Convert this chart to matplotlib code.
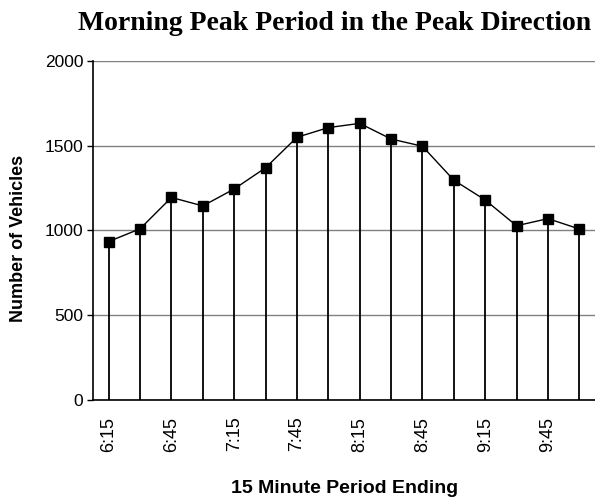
import numpy as np
import matplotlib.pyplot as plt

# 15 minute periods (period ending)
periods = ['6:15', '6:30', '6:45', '7:00', '7:15', '7:30', '7:45', '8:00',
           '8:15', '8:30', '8:45', '9:00', '9:15', '9:30', '9:45', '10:00']
vehicles = [935, 1010, 1195, 1145, 1245, 1370, 1550, 1607,
            1632, 1540, 1497, 1297, 1180, 1028, 1070, 1009]

x = np.arange(len(periods))

fig = plt.figure(figsize=(5.95, 4.98), dpi=100)
ax = fig.add_axes([93 / 595, 1 - 400 / 498, 1 - 93 / 595, 339 / 498])

# drop lines from each point down to the axis
ax.vlines(x, 0, vehicles, color='black', lw=1.3, zorder=2)
ax.plot(x, vehicles, color='black', lw=1, marker='s', ms=6.5, zorder=3)

ax.set_xlim(-0.5, 15.5)
ax.set_ylim(0, 2000)
ax.set_yticks([0, 500, 1000, 1500, 2000])
ax.yaxis.grid(True, color='#808080', lw=1)
ax.set_axisbelow(True)

# only every other period gets a label
ax.set_xticks(x[::2])
ax.set_xticklabels(periods[::2], rotation=90, fontsize=13, family='Liberation Sans')
ax.tick_params(axis='x', length=0, pad=12)
ax.tick_params(axis='y', length=4, width=1, pad=3, color='black')
for lab in ax.get_yticklabels():
    lab.set_family('Liberation Sans')
    lab.set_fontsize(12.5)

for s in ['top', 'right']:
    ax.spines[s].set_visible(False)
ax.spines['left'].set_linewidth(1.2)
ax.spines['bottom'].set_linewidth(1.2)

ax.set_xlabel('15 Minute Period Ending', fontsize=14, fontweight='bold',
              family='Liberation Sans', va='center')
ax.xaxis.set_label_coords((345 - 93) / 502, (400 - 488) / 339)
ax.set_ylabel('Number of Vehicles', fontsize=13, fontweight='bold',
              family='Liberation Sans', va='center')
ax.yaxis.set_label_coords((19 - 93) / 502, (400 - 238) / 339)

fig.text(335 / 595, 1 - 24 / 498, 'Morning Peak Period in the Peak Direction',
         ha='center', va='center', fontsize=20, fontweight='bold',
         family='Liberation Serif')

plt.savefig('out.png')
